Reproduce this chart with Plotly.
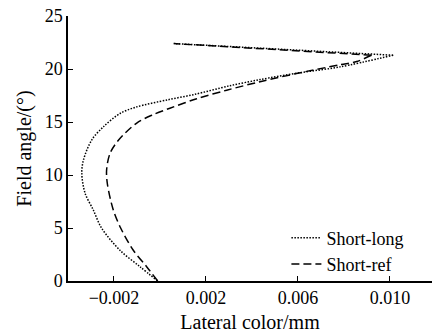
import plotly.graph_objects as go

# Short-long (dotted)
sl_y = [0, 1.35, 2.9, 5, 6.7, 8.3, 10.15, 11.4, 13.3, 14.55, 15.8, 16.4, 17.1, 17.6, 18.4, 19.0, 19.65, 20.2, 21.3, 22.4]
sl_x = [-0.0001, -0.00087, -0.00174, -0.00254, -0.0029, -0.00326, -0.0034, -0.00333, -0.00297, -0.00246,
        -0.00174, -0.00105, 0.00035, 0.0015, 0.0030, 0.00435, 0.0061, 0.00783, 0.01014, 0.0006]

# Short-ref (dashed)
sr_y = [0, 1.35, 2.9, 5, 6.7, 9.2, 10.5, 12.05, 13.3, 14.9, 15.7, 16.3, 17.2, 18.0, 18.8, 19.65, 20.4, 20.7, 21.3, 22.4]
sr_x = [-0.0001, -0.00058, -0.00116, -0.00171, -0.00203, -0.00229, -0.00232, -0.00217, -0.0018, -0.00101,
        -0.00029, 0.00043, 0.0016, 0.0029, 0.00435, 0.0061, 0.00783, 0.00855, 0.0092, 0.0006]

x_tickvals = [-0.002, 0.002, 0.006, 0.010]
x_ticktext = ["\u22120.002", "0.002", "0.006", "0.010"]
y_tickvals = [0, 5, 10, 15, 20, 25]

FONT = "Liberation Serif, Times New Roman, serif"

fig = go.Figure()
for name, xs, ys, dash, w in [("Short-long", sl_x, sl_y, "1.5px,1.5px", 1.5),
                              ("Short-ref", sr_x, sr_y, "8px,4px", 1.5)]:
    # smooth main curve up to the turning point
    fig.add_trace(go.Scatter(x=xs[:-1], y=ys[:-1], mode="lines", name=name, legendgroup=name,
                             line=dict(color="black", width=w, dash=dash, shape="spline", smoothing=0.9)))
    # straight return segment from the turning point
    fig.add_trace(go.Scatter(x=xs[-2:], y=ys[-2:], mode="lines", name=name, legendgroup=name,
                             showlegend=False, line=dict(color="black", width=w, dash=dash)))

fig.update_layout(
    width=432, height=333,
    margin=dict(l=68, r=0, t=16, b=52),
    paper_bgcolor="white", plot_bgcolor="white",
    font=dict(family=FONT, size=18, color="black"),
    showlegend=True,
    legend=dict(x=0.60, y=0.232, xanchor="left", yanchor="top",
                bgcolor="rgba(0,0,0,0)", font=dict(size=18, family=FONT),
                tracegroupgap=0, itemwidth=30),
)
fig.update_xaxes(
    range=[-0.004, 0.01183], showline=True, linecolor="black", linewidth=1.5,
    ticks="inside", ticklen=5, tickwidth=1.2, tickcolor="black",
    tickvals=x_tickvals, ticktext=x_ticktext, showgrid=False, zeroline=False,
    title=dict(text="Lateral color/mm", font=dict(size=20, family=FONT), standoff=8),
    tickfont=dict(size=18, family=FONT),
)
fig.update_yaxes(
    range=[0, 25], showline=True, linecolor="black", linewidth=1.5,
    ticks="inside", ticklen=5, tickwidth=1.2, tickcolor="black",
    tickvals=y_tickvals, showgrid=False, zeroline=False,
    title=dict(text="Field angle/(\u00b0)", font=dict(size=20, family=FONT), standoff=8),
    tickfont=dict(size=18, family=FONT),
)

fig.write_html("out.html")
